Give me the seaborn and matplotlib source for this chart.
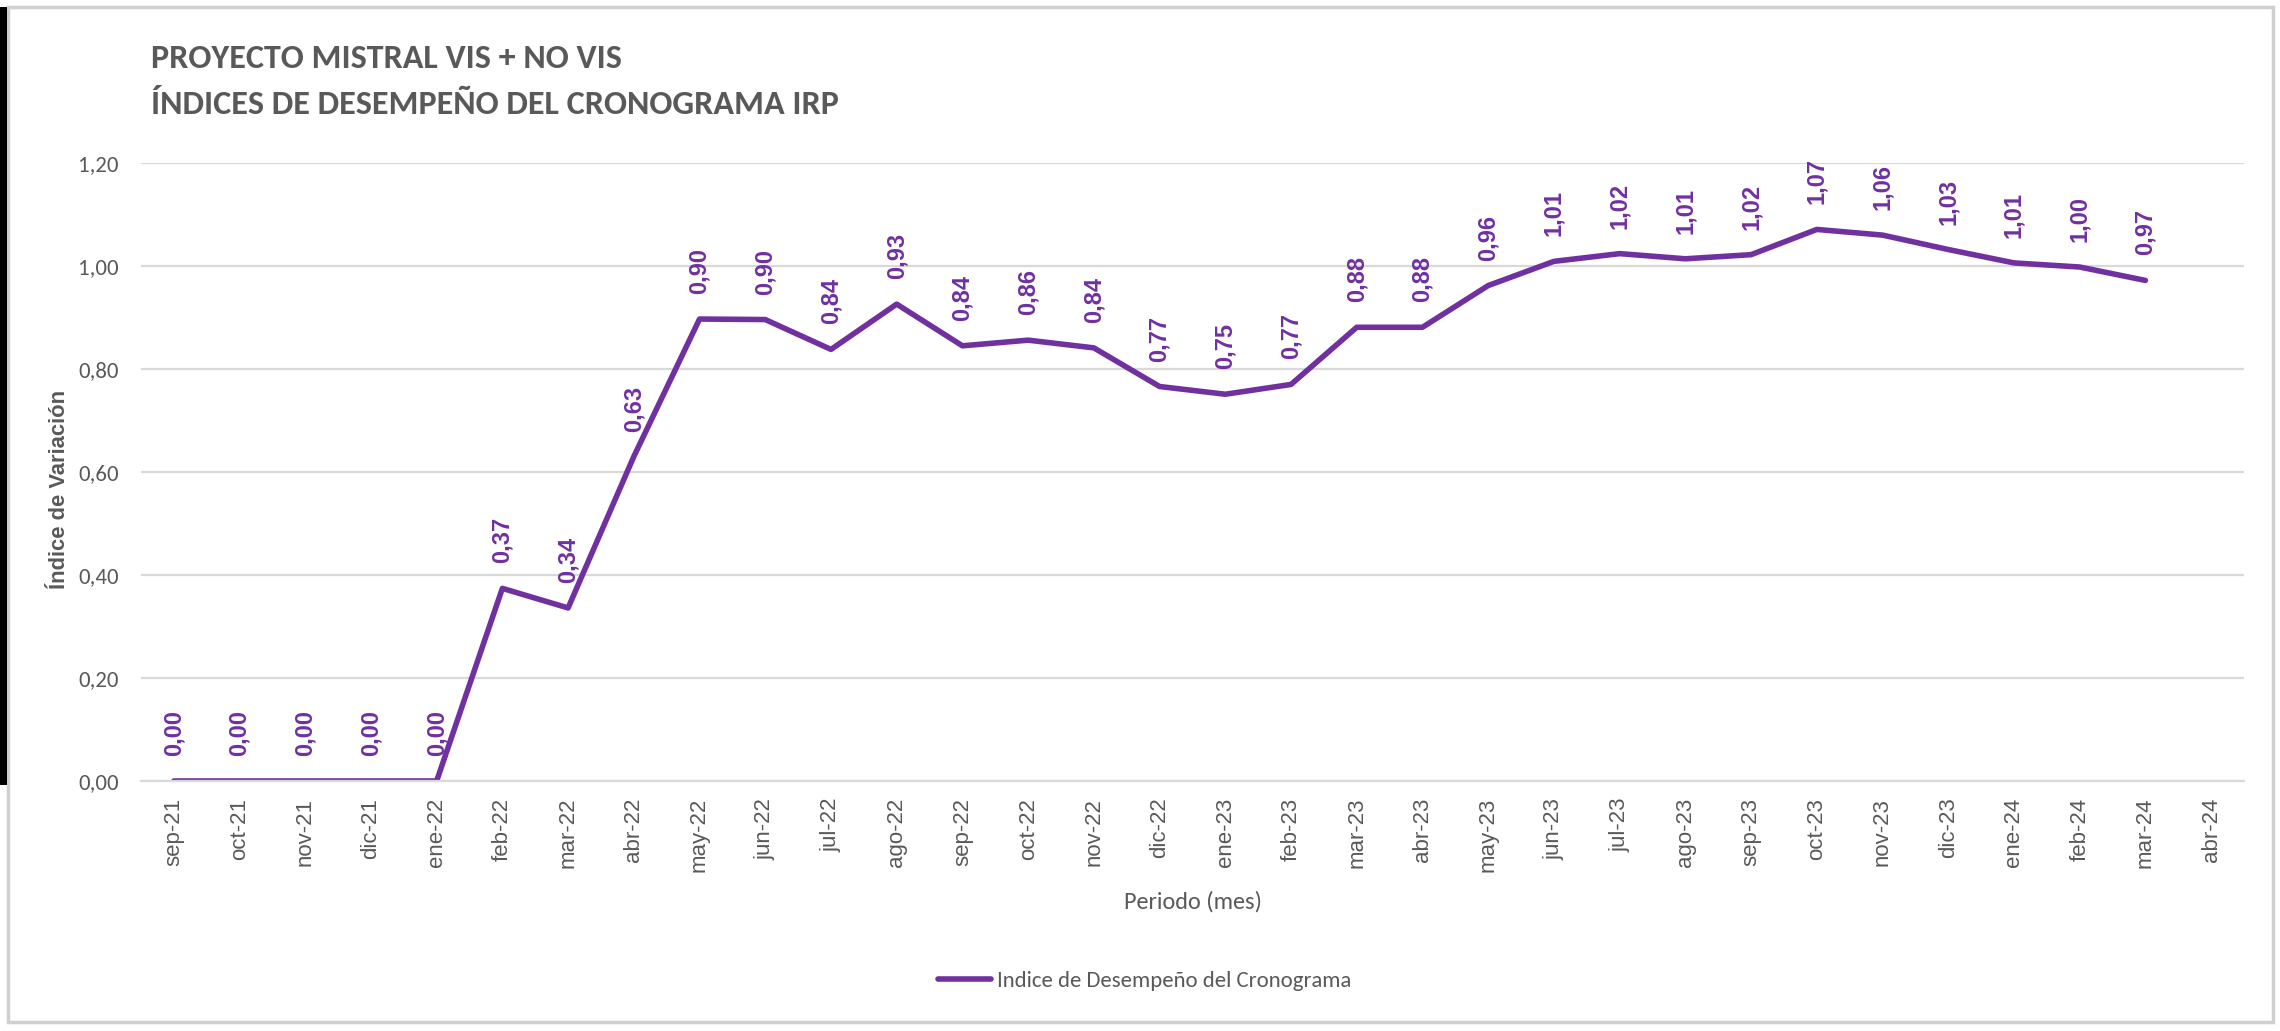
# -*- coding: utf-8 -*-
import numpy as np
import pandas as pd
import matplotlib
matplotlib.use('Agg')
import matplotlib.pyplot as plt
import matplotlib.font_manager as fm
from matplotlib.patches import Rectangle
import seaborn as sns

# datos
meses = ['sep-21', 'oct-21', 'nov-21', 'dic-21', 'ene-22', 'feb-22', 'mar-22', 'abr-22',
         'may-22', 'jun-22', 'jul-22', 'ago-22', 'sep-22', 'oct-22', 'nov-22', 'dic-22',
         'ene-23', 'feb-23', 'mar-23', 'abr-23', 'may-23', 'jun-23', 'jul-23', 'ago-23',
         'sep-23', 'oct-23', 'nov-23', 'dic-23', 'ene-24', 'feb-24', 'mar-24', 'abr-24']
indice = [0.00, 0.00, 0.00, 0.00, 0.00, 0.374, 0.336, 0.63, 0.897, 0.896, 0.838, 0.926,
          0.845, 0.856, 0.841, 0.766, 0.751, 0.770, 0.881, 0.881, 0.962, 1.009, 1.024,
          1.014, 1.022, 1.071, 1.060, 1.032, 1.006, 0.998, 0.972]
serie = 'Indice de Desempeño del Cronograma'

morado = '#7030A0'
gris = '#595959'
gris_grid = '#D9D9D9'

# fuentes: la primera que este instalada
disponibles = set(f.name for f in fm.fontManager.ttflist)
def fuente(*opciones):
    return [o for o in opciones if o in disponibles][:1] + ['DejaVu Sans']

calibri = fuente('Carlito', 'Liberation Sans Narrow', 'Open Sans Condensed', 'Archivo Narrow')
arial = fuente('Liberation Sans', 'Arimo')

sns.set_style('white')
plt.rcParams['font.family'] = arial

df = pd.DataFrame({'pos': np.arange(len(indice)), 'valor': indice})

fig = plt.figure(figsize=(22.8, 10.31), dpi=100)
fig.patch.set_facecolor('white')
ax = fig.add_axes([0.0618, 0.2425, 0.9224, 0.5994])

sns.lineplot(data=df, x='pos', y='valor', color=morado, linewidth=4,
             label=serie, ax=ax, legend=False)

# etiquetas de datos
for x, v in zip(df['pos'], df['valor']):
    ax.annotate(('%.2f' % v).replace('.', ','), (x, v), xytext=(0, 18),
                textcoords='offset points', rotation=90, ha='center', va='bottom',
                color=morado, fontsize=17, fontweight='bold')

ax.set_xlim(-0.5, len(meses) - 0.5)
ax.set_ylim(0, 1.2)
yt = np.arange(0, 1.21, 0.2)
ax.set_yticks(yt)
ax.set_yticklabels([('%.2f' % t).replace('.', ',') for t in yt], family=calibri,
                   fontsize=16.5, color=gris)
ax.set_xticks(np.arange(len(meses)))
ax.set_xticklabels(meses, rotation=90, fontsize=16, color=gris)
ax.set_xticks(np.arange(len(meses) + 1) - 0.5, minor=True)
ax.tick_params(axis='x', which='major', length=0, pad=12)
ax.tick_params(axis='x', which='minor', length=9, width=1.5, color=gris_grid, direction='out')
ax.tick_params(axis='y', length=0, pad=16)
ax.yaxis.grid(True, color=gris_grid, linewidth=1.6)
ax.xaxis.grid(False)
for s in ['top', 'right', 'left']:
    ax.spines[s].set_visible(False)
ax.spines['bottom'].set_color(gris_grid)
ax.spines['bottom'].set_linewidth(1.6)

ax.set_xlabel('Periodo (mes)', family=calibri, fontsize=17.5, color=gris)
ax.xaxis.set_label_coords(0.5, -(891 - 781) / 618)
ax.set_ylabel('Índice de Variación', fontsize=15.8, fontweight='bold', color=gris)
ax.yaxis.set_label_coords(-0.0338, 0.472)

# titulo
fig.text(151 / 2280, 1 - 58 / 1031, 'PROYECTO MISTRAL VIS + NO VIS', family=calibri,
         fontsize=24.6, fontweight='bold', color=gris, va='center')
fig.text(151 / 2280, 1 - 105 / 1031, 'ÍNDICES DE DESEMPEÑO DEL CRONOGRAMA IRP', family=calibri,
         fontsize=24.6, fontweight='bold', color=gris, va='center')

# leyenda
h, l = ax.get_legend_handles_labels()
fig.legend(h, l, loc='center', bbox_to_anchor=(1145 / 2280, 1 - 981 / 1031), frameon=False,
           prop={'family': calibri, 'size': 16.4}, labelcolor=gris, handlelength=2.3,
           handletextpad=0.3)

# marco del grafico
fig.patches.append(Rectangle((8 / 2280, 9 / 1031), 2265 / 2280, 1015 / 1031,
                             transform=fig.transFigure, fill=False,
                             edgecolor='#D0D0D0', linewidth=2.5))
fig.patches.append(Rectangle((0, 1 - 785 / 1031), 7 / 2280, 778 / 1031,
                             transform=fig.transFigure, facecolor='black', edgecolor='none'))

fig.savefig('out.png', dpi=100, facecolor='white')
